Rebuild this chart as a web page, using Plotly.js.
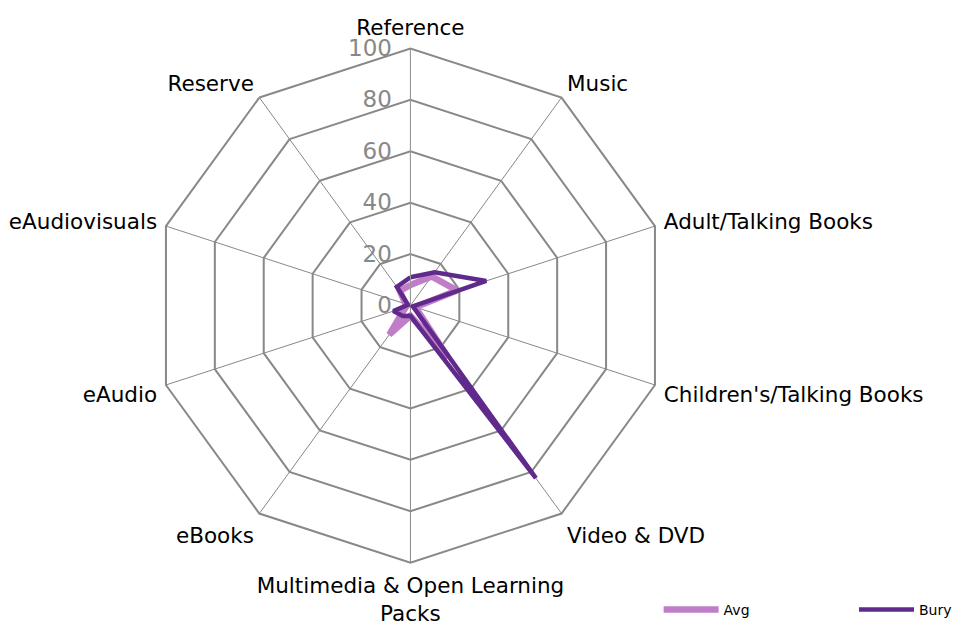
<!DOCTYPE html>
<html>
<head>
<meta charset="utf-8">
<script src="https://cdn.plot.ly/plotly-3.0.1.min.js"></script>
<style>
  html, body { margin: 0; padding: 0; background: #fff; }
  #myPlot { width: 957px; height: 626px; }
</style>
</head>
<body>
<div id="myPlot"></div>
<script>
        // Radar chart data
        var categories = ["Reference", "Music", "Adult/Talking Books", "Children's/Talking Books",
            "Video & DVD", "Multimedia & Open Learning<br>Packs", "eBooks", "eAudio",
            "eAudiovisuals", "Reserve"];
        var avgValues = [8, 14, 19, 2, 25, 4, 14, 2, 2, 7];
        var buryValues = [11, 16, 31, 1, 83, 4, 5, 7, 1, 9];
        var radialTicks = [0, 20, 40, 60, 80, 100];

        // close the loop
        var theta = categories.concat([categories[0]]);
        var rAvg = avgValues.concat([avgValues[0]]);
        var rBury = buryValues.concat([buryValues[0]]);

        const data = [{
            type: "scatterpolar",
            mode: "lines",
            name: "Avg",
            r: rAvg,
            theta: theta,
            legend: "legend",
            line: { color: "rgb(192,126,200)", width: 6.5 }
        }, {
            type: "scatterpolar",
            mode: "lines",
            name: "Bury",
            r: rBury,
            theta: theta,
            legend: "legend2",
            line: { color: "rgb(96,42,140)", width: 4.5 }
        }];

        var legendStyle = {
            orientation: "h",
            xanchor: "left",
            y: -0.008,
            yanchor: "bottom",
            font: { size: 14, color: "#000" },
            itemwidth: 55,
            bgcolor: "rgba(0,0,0,0)"
        };

        const layout = {
            width: 957,
            height: 626,
            margin: { l: 0, r: 0, t: 0, b: 0 },
            paper_bgcolor: "#fff",
            font: { family: "DejaVu Sans, Verdana, sans-serif", color: "#000" },
            showlegend: true,
            legend: Object.assign({}, legendStyle, { x: 0.694 }),
            legend2: Object.assign({}, legendStyle, { x: 0.9 }),
            polar: {
                domain: { x: [0.1615, 0.7035], y: [0.094, 0.922] },
                gridshape: "linear",
                bgcolor: "#fff",
                angularaxis: {
                    rotation: 90,
                    direction: "clockwise",
                    gridcolor: "#888",
                    gridwidth: 1,
                    linecolor: "#888",
                    linewidth: 2,
                    ticks: "outside",
                    ticklen: 4,
                    tickcolor: "rgba(0,0,0,0)",
                    tickfont: { size: 21.5, color: "#000" }
                },
                radialaxis: {
                    range: [0, 100],
                    angle: 90,
                    tickangle: 90,
                    tickvals: radialTicks,
                    ticktext: radialTicks.map(String),
                    side: "counterclockwise",
                    gridcolor: "#888",
                    gridwidth: 2,
                    showline: true,
                    linecolor: "#999",
                    linewidth: 1,
                    ticks: "outside",
                    ticklen: 10,
                    tickcolor: "rgba(0,0,0,0)",
                    tickfont: { size: 23, color: "#888" }
                }
            }
        };

        Plotly.newPlot("myPlot", data, layout, { displayModeBar: false });
</script>
</body>
</html>
